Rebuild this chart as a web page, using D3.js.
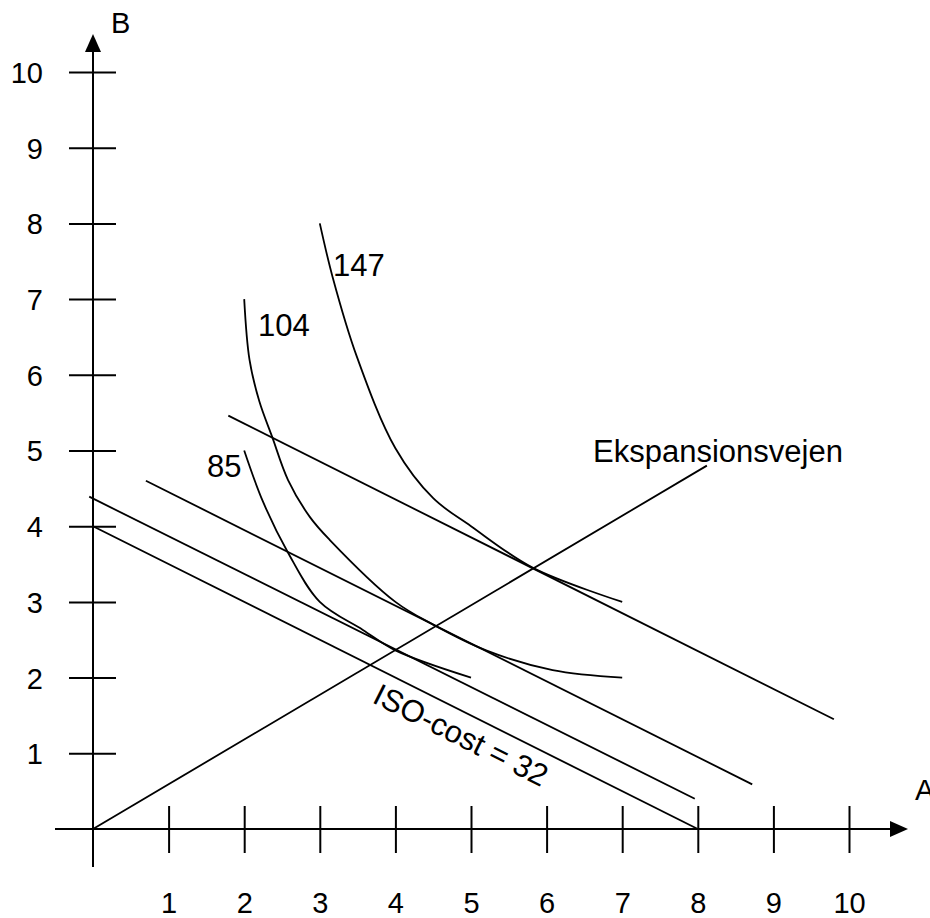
<!DOCTYPE html>
<html>
<head>
<meta charset="utf-8">
<script src="https://cdn.jsdelivr.net/npm/d3@7"></script>
<style>
  body { margin: 0; background: #fff; }
  svg text { font-family: "Liberation Sans", Arial, sans-serif; fill: #000; }
</style>
</head>
<body>
<svg id="chart" width="930" height="918"></svg>
<script>
// tick values on both axes
const xTicks = [1, 2, 3, 4, 5, 6, 7, 8, 9, 10];
const yTicks = [1, 2, 3, 4, 5, 6, 7, 8, 9, 10];

// isoquants
const isoquant85 = [[2, 5], [2.25, 4.32], [2.58, 3.65], [3, 3], [3.57, 2.63], [4, 2.36], [5, 2]];
const isoquant104 = [[2, 7], [2.07, 6.2], [2.2, 5.65], [2.37, 5.18], [2.58, 4.61], [2.87, 4.12], [3.13, 3.82], [4, 3], [4.5, 2.7], [5.2, 2.36], [6.08, 2.1], [7, 2]];
const isoquant147 = [[3, 8], [3.17, 7.29], [3.49, 6.24], [4, 5.03], [4.5, 4.37], [5, 4], [5.82, 3.45], [7, 3]];
const isoquantLabels = ["85", "104", "147"];

// iso-cost lines, lowest first
const isoCostLines = [
  [[0, 4], [8, 0]],
  [[-0.05, 4.39], [7.96, 0.4]],
  [[0.7, 4.6], [8.72, 0.59]],
  [[1.79, 5.46], [9.8, 1.45]]
];

// expansion path
const expansionPath = [[0, 0], [8.12, 4.8]];

const svg = d3.select("#chart");

const x = d3.scaleLinear().domain([0, 10]).range([93, 849]);
const y = d3.scaleLinear().domain([0, 10]).range([829, 72]);

const line = d3.line().x((d) => x(d[0])).y((d) => y(d[1]));
const curve = d3.line()
  .x((d) => x(d[0]))
  .y((d) => y(d[1]))
  .curve(d3.curveCatmullRom.alpha(0.5));

// axis lines
svg.append("line")
  .attr("x1", x(0)).attr("y1", 867)
  .attr("x2", x(0)).attr("y2", 50)
  .attr("stroke", "#000").attr("stroke-width", 2);
svg.append("line")
  .attr("x1", 55).attr("y1", y(0))
  .attr("x2", 891).attr("y2", y(0))
  .attr("stroke", "#000").attr("stroke-width", 2);

// arrow heads
svg.append("path")
  .attr("d", `M ${x(0)} 34 L ${x(0) - 8} 52 L ${x(0) + 8} 52 Z`)
  .attr("fill", "#000");
svg.append("path")
  .attr("d", `M 908 ${y(0)} L 890 ${y(0) - 8} L 890 ${y(0) + 8} Z`)
  .attr("fill", "#000");

// x axis ticks and labels
const xAxis = svg.append("g")
  .attr("transform", `translate(0, ${y(0)})`)
  .call(d3.axisBottom(x).tickValues(xTicks).tickFormat(d3.format("d")));
xAxis.select(".domain").remove();
xAxis.selectAll(".tick line")
  .attr("y1", -23).attr("y2", 24)
  .attr("stroke", "#000").attr("stroke-width", 2);
xAxis.selectAll(".tick text")
  .attr("y", 84).attr("dy", 0)
  .attr("font-size", 29)
  .attr("font-family", "Liberation Sans, Arial, sans-serif")
  .attr("fill", "#000");

// y axis ticks and labels
const yAxis = svg.append("g")
  .attr("transform", `translate(${x(0)}, 0)`)
  .call(d3.axisLeft(y).tickValues(yTicks).tickFormat(d3.format("d")));
yAxis.select(".domain").remove();
yAxis.selectAll(".tick line")
  .attr("x1", -24).attr("x2", 23)
  .attr("stroke", "#000").attr("stroke-width", 2);
yAxis.selectAll(".tick text")
  .attr("x", -50).attr("dy", "0.36em")
  .attr("font-size", 29)
  .attr("font-family", "Liberation Sans, Arial, sans-serif")
  .attr("fill", "#000");

// axis names (A is cut by the right edge, as in the original)
svg.append("text").attr("x", 111).attr("y", 33).attr("font-size", 29).text("B");
svg.append("text").attr("x", 915).attr("y", 800).attr("font-size", 29).text("A");

// iso-cost lines
svg.selectAll(".isocost")
  .data(isoCostLines)
  .enter()
  .append("path")
  .attr("class", "isocost")
  .attr("d", line)
  .attr("fill", "none")
  .attr("stroke", "#000")
  .attr("stroke-width", 1.8);

// expansion path
svg.append("path")
  .datum(expansionPath)
  .attr("d", line)
  .attr("fill", "none")
  .attr("stroke", "#000")
  .attr("stroke-width", 1.8);

// isoquants
svg.selectAll(".isoquant")
  .data([isoquant85, isoquant104, isoquant147])
  .enter()
  .append("path")
  .attr("class", "isoquant")
  .attr("d", curve)
  .attr("fill", "none")
  .attr("stroke", "#000")
  .attr("stroke-width", 1.8);

// isoquant labels
const labelPos = [[207, 477], [258, 336], [333, 276]];
svg.selectAll(".isoquant_label")
  .data(isoquantLabels)
  .enter()
  .append("text")
  .attr("class", "isoquant_label")
  .attr("x", (d, i) => labelPos[i][0])
  .attr("y", (d, i) => labelPos[i][1])
  .attr("font-size", 31)
  .text((d) => d);

svg.append("text")
  .attr("x", 593).attr("y", 462)
  .attr("font-size", 31)
  .text("Ekspansionsvejen");

// label along the lowest iso-cost line
const base = isoCostLines[0];
const angle = Math.atan2(y(base[1][1]) - y(base[0][1]), x(base[1][0]) - x(base[0][0])) * 180 / Math.PI;
svg.append("text")
  .attr("transform", `translate(371, 702) rotate(${angle})`)
  .attr("font-size", 31)
  .text("ISO-cost = 32");
</script>
</body>
</html>
